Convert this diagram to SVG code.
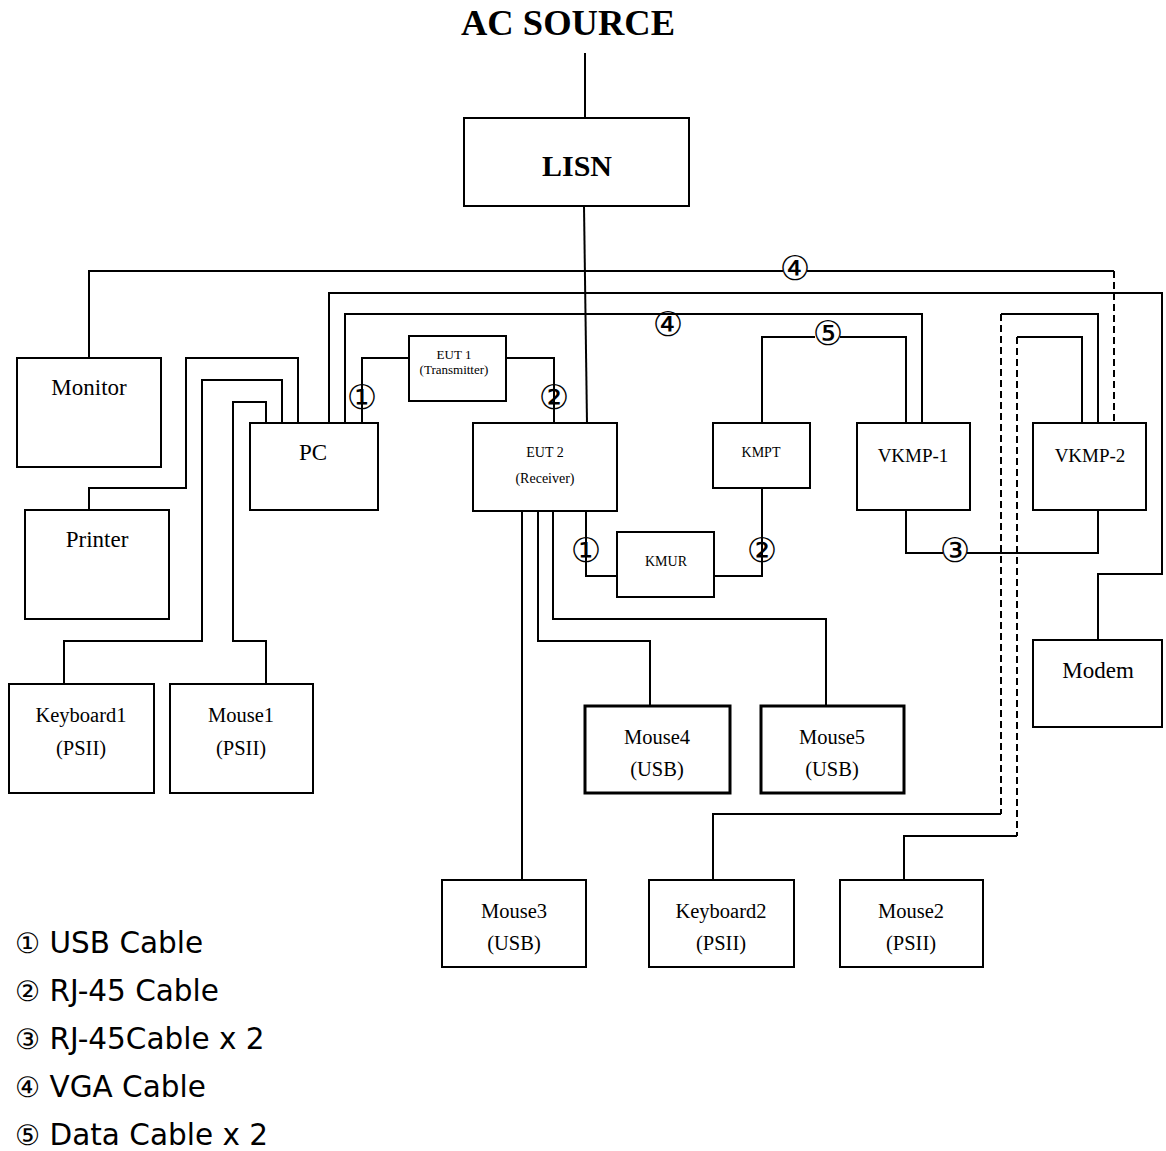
<svg xmlns="http://www.w3.org/2000/svg" width="1166" height="1151" viewBox="0 0 1166 1151">
<style>
.bx{fill:#fff;stroke:#000;stroke-width:2}
.bxt{fill:#fff;stroke:#000;stroke-width:3}
.w{fill:none;stroke:#000;stroke-width:2}
.d{fill:none;stroke:#000;stroke-width:2;stroke-dasharray:7 4}
text{font-family:"Liberation Serif","Times New Roman",serif;fill:#000;text-anchor:middle}
.big{font-size:23px}
.mid{font-size:20.5px}
.vk{font-size:19px}
.sm{font-size:14px}
.xs{font-size:13px}
.b{font-weight:bold}
.cn{font-family:"DejaVu Sans","Noto Sans CJK SC",sans-serif;font-size:34px;dominant-baseline:central}
.lg{font-family:"DejaVu Sans","Noto Sans CJK SC",sans-serif;font-size:29.5px;text-anchor:start}
.lg tspan.c{font-size:28px}
</style>
<rect width="1166" height="1151" fill="#fff"/>
<g id="connectors">
<path class="w" d="M585 53V118"/>
<path class="w" d="M584 206L587 423"/>
<path class="w" d="M89 358V271H783M807 271H1114"/>
<path class="d" d="M1114 271V423"/>
<path class="w" d="M329 423V293H1162V574H1098V640"/>
<path class="w" d="M345 423V314H922V423"/>
<path class="w" d="M298 423V358H186V488H89V510"/>
<path class="w" d="M282 423V380H202V641H64V684"/>
<path class="w" d="M266 423V402H233V641H266V684"/>
<path class="w" d="M362 423V358H409"/>
<path class="w" d="M506 358H554V423"/>
<path class="w" d="M586 511V576H617"/>
<path class="w" d="M714 576H762V488"/>
<path class="w" d="M553 511V619H826V706"/>
<path class="w" d="M538 511V641H650V706"/>
<path class="w" d="M522 511V880"/>
<path class="w" d="M762 423V337H815M840 337H906V423"/>
<path class="w" d="M906 510V553H943M967 553H1098V510"/>
<path class="w" d="M1098 423V314H1001"/>
<path class="d" d="M1001 314V814"/>
<path class="w" d="M1001 814H713V880"/>
<path class="w" d="M1082 423V337H1017"/>
<path class="d" d="M1017 337V836"/>
<path class="w" d="M1017 836H904V880"/>
<text class="cn" x="362" y="397">①</text>
<text class="cn" x="554" y="397">②</text>
<text class="cn" x="586" y="550">①</text>
<text class="cn" x="762" y="550">②</text>
<text class="cn" x="955" y="550">③</text>
<text class="cn" x="795" y="268">④</text>
<text class="cn" x="668" y="324">④</text>
<text class="cn" x="828" y="333">⑤</text>
</g>
<g id="ac-source"><text class="b" x="568" y="35" style="font-size:36.5px">AC SOURCE</text></g>
<g id="lisn"><rect class="bx" x="464" y="118" width="225" height="88"/><text class="b" x="577" y="176" style="font-size:30px">LISN</text></g>
<g id="monitor"><rect class="bx" x="17" y="358" width="144" height="109"/><text class="big" x="89" y="395">Monitor</text></g>
<g id="pc"><rect class="bx" x="250" y="423" width="128" height="87"/><text class="big" x="313" y="460">PC</text></g>
<g id="printer"><rect class="bx" x="25" y="510" width="144" height="109"/><text class="big" x="97" y="547">Printer</text></g>
<g id="keyboard1"><rect class="bx" x="9" y="684" width="145" height="109"/><text class="mid" x="81" y="722">Keyboard1</text><text class="mid" x="81" y="755">(PSII)</text></g>
<g id="mouse1"><rect class="bx" x="170" y="684" width="143" height="109"/><text class="mid" x="241" y="722">Mouse1</text><text class="mid" x="241" y="755">(PSII)</text></g>
<g id="eut1"><rect class="bx" x="409" y="336" width="97" height="65"/><text class="xs" x="454" y="359">EUT 1</text><text class="xs" x="454" y="374">(Transmitter)</text></g>
<g id="eut2"><rect class="bx" x="473" y="423" width="144" height="88"/><text class="sm" x="545" y="457">EUT 2</text><text class="sm" x="545" y="483">(Receiver)</text></g>
<g id="kmur"><rect class="bx" x="617" y="532" width="97" height="65"/><text class="sm" x="666" y="566">KMUR</text></g>
<g id="kmpt"><rect class="bx" x="713" y="423" width="97" height="65"/><text class="sm" x="761" y="457">KMPT</text></g>
<g id="vkmp1"><rect class="bx" x="857" y="423" width="113" height="87"/><text class="vk" x="913" y="462">VKMP-1</text></g>
<g id="vkmp2"><rect class="bx" x="1033" y="423" width="113" height="87"/><text class="vk" x="1090" y="462">VKMP-2</text></g>
<g id="modem"><rect class="bx" x="1033" y="640" width="129" height="87"/><text class="big" x="1098" y="678">Modem</text></g>
<g id="mouse4"><rect class="bxt" x="585" y="706" width="145" height="87"/><text class="mid" x="657" y="744">Mouse4</text><text class="mid" x="657" y="776">(USB)</text></g>
<g id="mouse5"><rect class="bxt" x="761" y="706" width="143" height="87"/><text class="mid" x="832" y="744">Mouse5</text><text class="mid" x="832" y="776">(USB)</text></g>
<g id="mouse3"><rect class="bx" x="442" y="880" width="144" height="87"/><text class="mid" x="514" y="918">Mouse3</text><text class="mid" x="514" y="950">(USB)</text></g>
<g id="keyboard2"><rect class="bx" x="649" y="880" width="145" height="87"/><text class="mid" x="721" y="918">Keyboard2</text><text class="mid" x="721" y="950">(PSII)</text></g>
<g id="mouse2"><rect class="bx" x="840" y="880" width="143" height="87"/><text class="mid" x="911" y="918">Mouse2</text><text class="mid" x="911" y="950">(PSII)</text></g>
<g id="legend">
<text class="lg" x="15" y="953"><tspan class="c">①</tspan> USB Cable</text>
<text class="lg" x="15" y="1001"><tspan class="c">②</tspan> RJ-45 Cable</text>
<text class="lg" x="15" y="1049"><tspan class="c">③</tspan> RJ-45Cable x 2</text>
<text class="lg" x="15" y="1097"><tspan class="c">④</tspan> VGA Cable</text>
<text class="lg" x="15" y="1145"><tspan class="c">⑤</tspan> Data Cable x 2</text>
</g>
</svg>
